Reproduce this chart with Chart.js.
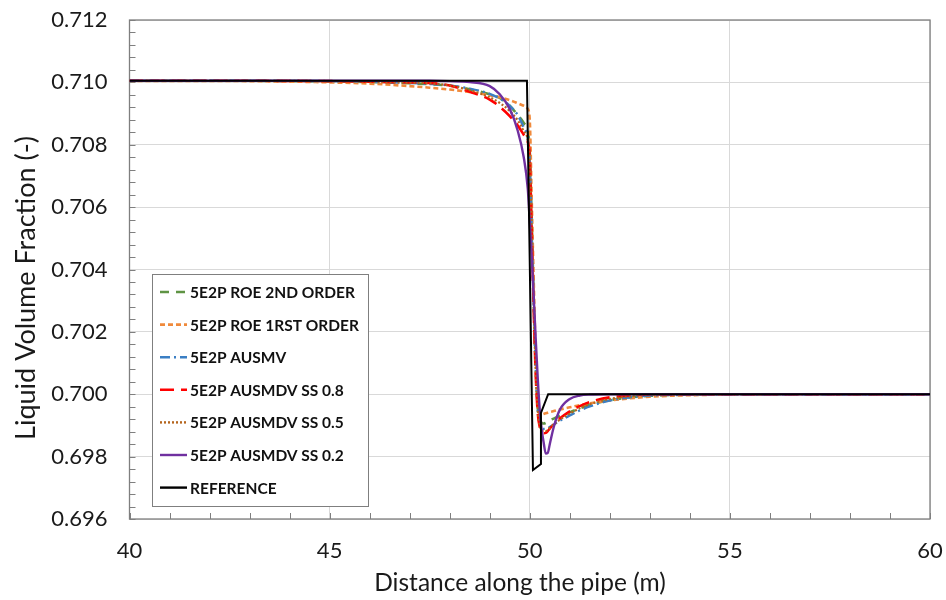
<!DOCTYPE html>
<html><head><meta charset="utf-8">
<script src="https://cdn.jsdelivr.net/npm/chart.js@4.4.1/dist/chart.umd.min.js"></script>
<style>html,body{margin:0;padding:0;background:#fff}#wrap{width:946px;height:600px}</style>
</head><body><div id="wrap"><canvas id="c" width="946" height="600"></canvas></div>
<script>
// ---- data ----
const seriesNames = ["5E2P ROE 2ND ORDER","5E2P ROE 1RST ORDER","5E2P AUSMV","5E2P AUSMDV SS 0.8","5E2P AUSMDV SS 0.5","5E2P AUSMDV SS 0.2","REFERENCE"];
const gridX = [40,43,45,46,47,47.5,48,48.5,49,49.25,49.5,49.7,49.85,49.95,50.0,50.05,50.1,50.15,50.2,50.25,50.3,50.35,50.4,50.45,50.5,50.6,50.75,51,51.25,51.5,52,52.5,53,54,55,57,60];
const roe2Y = [0.71005,0.71005,0.71003,0.71001,0.70997,0.70994,0.70989,0.70978,0.70962,0.70950,0.70925,0.70895,0.70870,0.70842,0.7078,0.7055,0.7030,0.7010,0.6996,0.69920,0.69908,0.69906,0.69908,0.69912,0.69916,0.69922,0.69930,0.69942,0.69955,0.69966,0.69981,0.69990,0.69995,0.69999,0.70000,0.70000,0.70000];
const roe1Y = [0.71005,0.71004,0.71000,0.70996,0.70988,0.70983,0.70977,0.70969,0.70959,0.70952,0.70943,0.70933,0.70925,0.70915,0.7088,0.7062,0.7036,0.7012,0.6997,0.69935,0.69935,0.69937,0.69939,0.69941,0.69943,0.69946,0.69951,0.69958,0.69965,0.69971,0.69980,0.69987,0.69992,0.69997,0.69999,0.70000,0.70000];
const ausmvY = [0.71005,0.71005,0.71004,0.71002,0.70998,0.70995,0.70990,0.70980,0.70963,0.70948,0.70925,0.70895,0.70855,0.70820,0.7075,0.7052,0.7028,0.7008,0.6995,0.69905,0.69893,0.69889,0.69889,0.69891,0.69895,0.69903,0.69915,0.69932,0.69948,0.69961,0.69980,0.69990,0.69996,0.69999,0.70000,0.70000,0.70000];
const ss08Y = [0.71005,0.71005,0.71004,0.71002,0.71000,0.70998,0.70990,0.70970,0.70945,0.70922,0.70892,0.70862,0.70832,0.70810,0.7076,0.7052,0.7027,0.7006,0.6994,0.69895,0.69880,0.69875,0.69876,0.69882,0.69890,0.69903,0.69922,0.69945,0.69962,0.69975,0.69990,0.69996,0.69999,0.70000,0.70000,0.70000,0.70000];
const ss05Y = [0.71005,0.71005,0.71004,0.71002,0.70999,0.70997,0.70990,0.70975,0.70952,0.70934,0.70908,0.70878,0.70843,0.70815,0.7075,0.7052,0.7028,0.7007,0.6995,0.69900,0.69886,0.69882,0.69882,0.69886,0.69892,0.69903,0.69918,0.69938,0.69955,0.69968,0.69985,0.69993,0.69998,0.70000,0.70000,0.70000,0.70000];
const ss02Y = [0.71005,0.71005,0.71005,0.71005,0.71005,0.71005,0.71004,0.71001,0.70988,0.70962,0.70915,0.70845,0.70760,0.70660,0.70555,0.70440,0.70310,0.70175,0.70050,0.69950,0.69885,0.69843,0.69810,0.69812,0.69840,0.69895,0.69950,0.69985,0.69996,0.69999,0.70000,0.70000,0.70000,0.70000,0.70000,0.70000,0.70000];
const refX = [40,49.93,50.08,50.28,50.28,50.46,60];
const refY = [0.71005,0.71005,0.69757,0.69776,0.69940,0.70000,0.70000];
const xTickValues = [40,45,50,55,60];
const yTickValues = [0.696,0.698,0.700,0.702,0.704,0.706,0.708,0.710,0.712];
const xTitle = "Distance along the pipe (m)";
const yTitle = "Liquid Volume Fraction (-)";

// ---- styles ----
const colors = ["#5f9444","#f08a3c","#3b7fc4","#ff0000","#b5651d","#7030a0","#000000"];
const dashes = [[9,7],[5,3],[10,4,2,4],[14,7],[2,2],[],[]];
const widths = [2.6,2.6,2.4,2.6,2.2,2.4,2];
const orders = [6,5,4,3,2,1,0];

const pts = (xs, ys) => xs.map((x,i)=>({x:x, y:ys[i]}));
const seriesY = [roe2Y, roe1Y, ausmvY, ss08Y, ss05Y, ss02Y];
const datasets = seriesNames.map((name,i)=>({
  label: name,
  data: i<6 ? pts(gridX, seriesY[i]) : pts(refX, refY),
  borderColor: colors[i],
  borderWidth: widths[i],
  borderDash: dashes[i],
  pointRadius: 0,
  fill: false,
  order: orders[i],
  tension: 0,
  cubicInterpolationMode: i<6 ? 'monotone' : 'default'
}));

const FONT = "Lato, 'Open Sans', sans-serif";

const decor = {
  id: 'decor',
  beforeDatasetsDraw(chart){
    const {ctx, chartArea:a, scales:{x, y}} = chart;
    ctx.save();
    ctx.strokeStyle = '#7f7f7f';
    ctx.lineWidth = 1.3;
    ctx.strokeRect(a.left, a.top, a.right-a.left, a.bottom-a.top);
    ctx.beginPath();
    for (let v = 40; v <= 60; v += 1){
      const px = Math.round(x.getPixelForValue(v))+0.5;
      ctx.moveTo(px, a.bottom); ctx.lineTo(px, a.bottom-6);
    }
    for (let k = 0; k <= 40; k++){
      const v = 0.696 + k*0.0004;
      const py = Math.round(y.getPixelForValue(v))+0.5;
      ctx.moveTo(a.left, py); ctx.lineTo(a.left+6, py);
    }
    ctx.lineWidth = 1;
    ctx.stroke();
    ctx.restore();
  },
  afterDraw(chart){
    const {ctx} = chart;
    ctx.save();
    ctx.fillStyle = '#1a1a1a';
    ctx.textAlign = 'center'; ctx.textBaseline = 'middle';
    ctx.font = "24.5px " + FONT;
    ctx.fillText(xTitle, 520, 583);
    ctx.translate(26, 288);
    ctx.rotate(-Math.PI/2);
    ctx.font = "27px " + FONT;
    ctx.fillText(yTitle, 0, 0);
    ctx.restore();
    // legend
    ctx.save();
    ctx.fillStyle = '#ffffff';
    ctx.fillRect(152, 274, 216, 232);
    ctx.strokeStyle = '#7f7f7f'; ctx.lineWidth = 1;
    ctx.strokeRect(152.5, 274.5, 216, 232);
    ctx.font = "bold 15.5px " + FONT;
    ctx.textBaseline = 'middle'; ctx.textAlign = 'left';
    chart.data.datasets.forEach((ds, i)=>{
      const cy = 292 + i*32.6;
      ctx.beginPath();
      ctx.setLineDash(ds.borderDash);
      ctx.strokeStyle = ds.borderColor;
      ctx.lineWidth = Math.max(ds.borderWidth, 2.4);
      ctx.moveTo(160, cy); ctx.lineTo(187, cy);
      ctx.stroke();
      ctx.setLineDash([]);
      ctx.fillStyle = '#111';
      ctx.fillText(ds.label, 190, cy+1);
    });
    ctx.restore();
  }
};

new Chart(document.getElementById('c'), {
  type: 'line',
  data: { datasets },
  options: {
    responsive: false,
    animation: false,
    layout: { padding: { top: 20, right: 16, left: 0, bottom: 0 } },
    plugins: { legend: { display: false }, tooltip: { enabled: false } },
    scales: {
      x: {
        type: 'linear', min: 40, max: 60,
        afterBuildTicks: s => { s.ticks = xTickValues.map(v=>({value:v})); },
        afterFit: s => { s.height = 81; s.paddingLeft = 0; s.paddingRight = 0; },
        grid: { color: '#d9d9d9', drawTicks: false, lineWidth: 1 },
        border: { display: false },
        ticks: { padding: 19, color: '#1a1a1a', font: { family: FONT, size: 22 }, maxRotation: 0 }
      },
      y: {
        type: 'linear', min: 0.696, max: 0.712,
        afterBuildTicks: s => { s.ticks = yTickValues.map(v=>({value:v})); },
        afterFit: s => { s.width = 129.5; s.paddingTop = 0; s.paddingBottom = 0; },
        grid: { color: '#d9d9d9', drawTicks: false, lineWidth: 1 },
        border: { display: false },
        ticks: { padding: 22, color: '#1a1a1a', font: { family: FONT, size: 22 }, callback: v => Number(v).toFixed(3) }
      }
    }
  },
  plugins: [decor]
});
</script></body></html>
